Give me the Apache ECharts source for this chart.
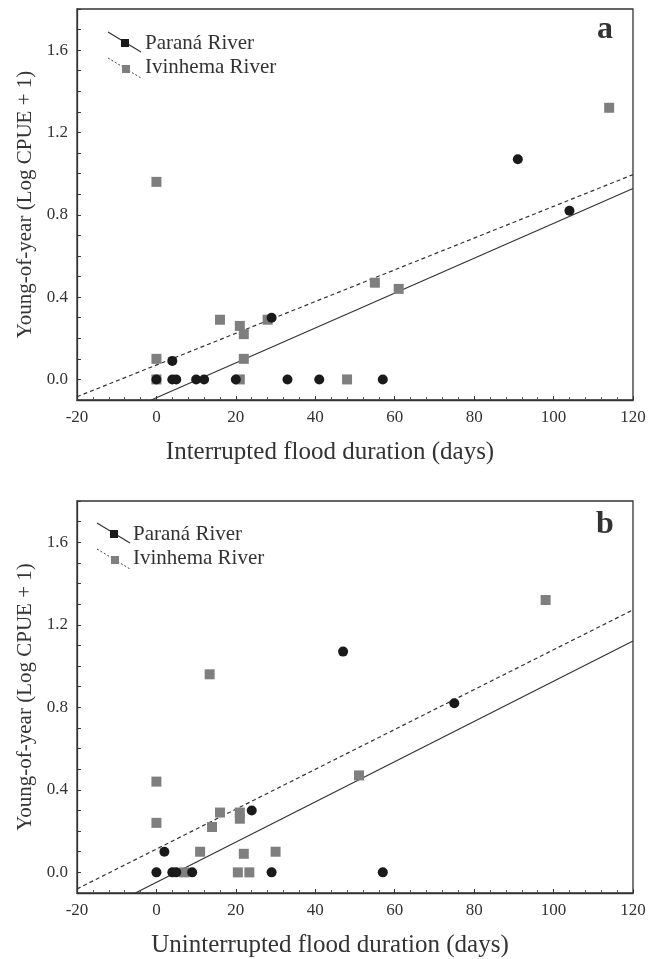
<!DOCTYPE html>
<html><head><meta charset="utf-8">
<script src="https://cdn.jsdelivr.net/npm/echarts@6/dist/echarts.min.js"></script>
<style>html,body{margin:0;padding:0;background:#fff}#c{width:660px;height:959px}</style>
</head><body><div id="c"></div>
<script>
// ---- data ----
const panelLetters = ['a', 'b'];
const xTitles = ['Interrupted flood duration (days)', 'Uninterrupted flood duration (days)'];
const yTitle = 'Young-of-year (Log CPUE + 1)';
const seriesNames = ['Paraná River', 'Ivinhema River'];
const yTickValues = [0, 0.4, 0.8, 1.2, 1.6];
const xTickValues = [-20, 0, 20, 40, 60, 80, 100, 120];

const paranaA = [[0,0],[4,0.09],[4,0],[5,0],[10,0],[12,0],[20,0],[29,0.3],[33,0],[41,0],[57,0],[91,1.07],[104,0.82]];
const ivinhemaA = [[0,0.96],[0,0.1],[0,0],[16,0.29],[21,0.26],[22,0.22],[22,0.1],[21,0],[28,0.29],[48,0],[55,0.47],[61,0.44],[114,1.32]];
const paranaB = [[0,0],[2,0.1],[4,0],[5,0],[9,0],[24,0.3],[29,0],[47,1.07],[57,0],[75,0.82]];
const ivinhemaB = [[0,0.44],[0,0.24],[7,0],[11,0.1],[13.4,0.96],[14,0.22],[16,0.29],[20.5,0],[21,0.29],[21,0.26],[22,0.09],[23.4,0],[30,0.1],[51,0.47],[98,1.32]];

// regression lines: [intercept, slope] and x span
const fitParanaA = [-0.089, 0.00847];   const spanParanaA = [-1.3, 120];
const fitIvinhemaA = [0.070, 0.00771];  const spanIvinhemaA = [-20, 120];
const fitParanaB = [-0.048, 0.009745];  const spanParanaB = [-5.3, 120];
const fitIvinhemaB = [0.113, 0.00966];  const spanIvinhemaB = [-20, 120];

// ---- chart ----
const FONT = '"Liberation Serif", "DejaVu Serif", serif';
const TXT = '#333';
const DARK = '#1a1a1a';
const GRAY = '#7f7f7f';

function fitLine(fit, span) {
  return span.map(x => [x, fit[0] + fit[1] * x]);
}

const grids = [
  { left: 77, top: 9, width: 556, height: 391 },
  { left: 77, top: 501, width: 556, height: 393 }
].map(g => Object.assign(g, { show: true, borderColor: '#333', borderWidth: 1.3, backgroundColor: 'transparent' }));

function xAxisFor(i) {
  return {
    type: 'value', gridIndex: i, min: xTickValues[0], max: xTickValues[xTickValues.length - 1], interval: 20,
    name: xTitles[i], nameLocation: 'middle', nameGap: 40,
    nameTextStyle: { fontFamily: FONT, fontSize: 25, color: TXT, padding: [0, 50, 0, 0] },
    axisLine: { show: true, onZero: false, lineStyle: { color: '#333', width: 1.3 } },
    axisTick: { show: true, inside: true, length: 4, lineStyle: { color: '#333' } },
    minorTick: { show: true, splitNumber: 5, length: 3, lineStyle: { color: '#555' } },
    axisLabel: { fontFamily: FONT, fontSize: 17, color: TXT, margin: 9 },
    splitLine: { show: false }
  };
}
function yAxisFor(i) {
  return {
    type: 'value', gridIndex: i, min: -0.1, max: 1.8, interval: 0.1,
    name: yTitle, nameLocation: 'middle', nameGap: 30,
    nameTextStyle: { fontFamily: FONT, fontSize: 21, color: TXT },
    axisLine: { show: true, onZero: false, lineStyle: { color: '#333', width: 1.3 } },
    axisTick: { show: true, inside: true, length: 4, lineStyle: { color: '#333' } },
    axisLabel: {
      fontFamily: FONT, fontSize: 17, color: TXT, margin: 9,
      formatter: v => yTickValues.some(t => Math.abs(t - v) < 1e-6) ? v.toFixed(1) : ''
    },
    splitLine: { show: false }
  };
}

const lineSeries = (data, i, dashed) => ({
  type: 'line', xAxisIndex: i, yAxisIndex: i, data, symbol: 'none', silent: true, z: 1,
  lineStyle: { color: '#333', width: 1.2, type: dashed ? [4, 3] : 'solid' }
});
const paranaSeries = (data, i) => ({
  name: seriesNames[0], type: 'scatter', xAxisIndex: i, yAxisIndex: i, data,
  symbol: 'circle', symbolSize: 10, itemStyle: { color: DARK, opacity: 1 }, z: 4
});
const ivinhemaSeries = (data, i) => ({
  name: seriesNames[1], type: 'scatter', xAxisIndex: i, yAxisIndex: i, data,
  symbol: 'rect', symbolSize: 10, itemStyle: { color: GRAY, opacity: 1 }, z: 3
});

function legendGraphics(ox, oy, tx) {
  return [
    { type: 'line', shape: { x1: ox, y1: oy, x2: ox + 33, y2: oy + 20 }, style: { stroke: '#333', lineWidth: 1.2 } },
    { type: 'rect', shape: { x: ox + 13, y: oy + 7, width: 8, height: 8 }, style: { fill: DARK } },
    { type: 'text', x: tx, y: oy + 11, style: { text: seriesNames[0], font: '21px ' + FONT, fill: TXT, verticalAlign: 'middle' } },
    { type: 'line', shape: { x1: ox, y1: oy + 26, x2: ox + 33, y2: oy + 46 }, style: { stroke: '#444', lineWidth: 1, lineDash: [2, 2] } },
    { type: 'rect', shape: { x: ox + 14, y: oy + 33, width: 8, height: 8 }, style: { fill: GRAY } },
    { type: 'text', x: tx, y: oy + 35, style: { text: seriesNames[1], font: '21px ' + FONT, fill: TXT, verticalAlign: 'middle' } }
  ];
}

const option = {
  animation: false,
  backgroundColor: '#fff',
  grid: grids,
  xAxis: [xAxisFor(0), xAxisFor(1)],
  yAxis: [yAxisFor(0), yAxisFor(1)],
  series: [
    lineSeries(fitLine(fitParanaA, spanParanaA), 0, false),
    lineSeries(fitLine(fitIvinhemaA, spanIvinhemaA), 0, true),
    ivinhemaSeries(ivinhemaA, 0),
    paranaSeries(paranaA, 0),
    lineSeries(fitLine(fitParanaB, spanParanaB), 1, false),
    lineSeries(fitLine(fitIvinhemaB, spanIvinhemaB), 1, true),
    ivinhemaSeries(ivinhemaB, 1),
    paranaSeries(paranaB, 1)
  ],
  graphic: [
    ...legendGraphics(108, 32, 145),
    ...legendGraphics(97, 523, 133),
    { type: 'text', x: 605, y: 30, style: { text: panelLetters[0], font: 'bold 32px ' + FONT, fill: TXT, align: 'center', verticalAlign: 'middle' } },
    { type: 'text', x: 605, y: 525, style: { text: panelLetters[1], font: 'bold 32px ' + FONT, fill: TXT, align: 'center', verticalAlign: 'middle' } }
  ]
};

const chart = echarts.init(document.getElementById('c'), null, { renderer: 'canvas' });
chart.setOption(option);
</script>
</body></html>
